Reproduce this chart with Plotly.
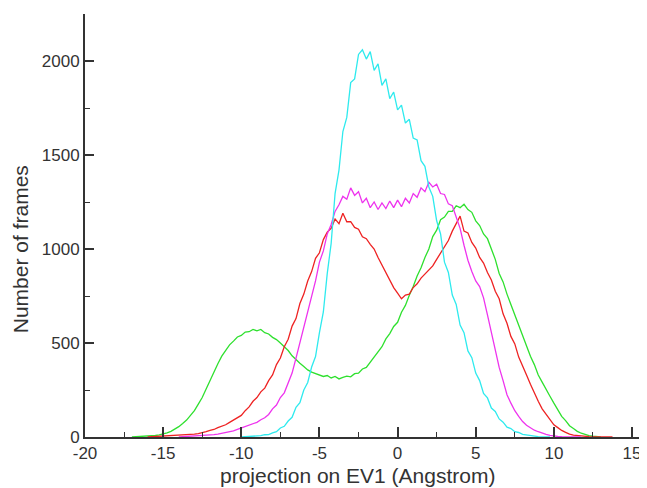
import numpy as np
import plotly.graph_objects as go

STEP = 0.25  # histogram bin spacing (Angstrom)

# Cyan curve, starts at -10
cyan_start = -10.0
cyan_vals = [
    0, 1, 3, 3, 6, 7, 12, 13,
    22, 28, 48, 57, 85, 105, 158, 182,
    250, 290, 372, 428, 555, 665, 870, 1030,
    1295, 1420, 1625, 1700, 1885, 1905, 2035, 2060,
    2010, 2050, 1950, 1985, 1870, 1905, 1800, 1835,
    1740, 1765, 1670, 1690, 1590, 1580, 1470, 1440,
    1330, 1280, 1150, 1080, 930, 875, 755, 705,
    595, 555, 458, 422, 340, 300, 232, 208,
    154, 136, 96, 79, 52, 45, 28, 24,
    14, 11, 5, 5, 2, 1, 0, 0,
]

# Magenta curve, starts at -14
magenta_start = -14.0
magenta_vals = [
    0, 1, 2, 3, 4, 5, 7, 8,
    10, 13, 15, 19, 22, 28, 32, 40,
    48, 55, 62, 70, 78, 92, 102, 120,
    150, 170, 210, 235, 285, 340, 420, 500,
    590, 660, 750, 830, 930, 990, 1080, 1130,
    1200, 1235, 1280, 1265, 1325, 1285, 1305, 1245,
    1270, 1220, 1250, 1210, 1245, 1215, 1255, 1220,
    1260, 1225, 1270, 1245, 1295, 1275, 1325, 1305,
    1355, 1330, 1345, 1295, 1290, 1240, 1230, 1165,
    1110, 1020, 940, 880, 830, 800, 740, 650,
    560, 460, 370, 300, 225, 180, 140, 110,
    82, 62, 48, 36, 28, 20, 14, 9,
    5, 3, 2, 1, 0, 0, 0, 0,
]

# Red curve, starts at -16
red_start = -16.0
red_vals = [
    0, 1, 2, 2, 3, 4, 5, 6,
    8, 9, 11, 13, 15, 18, 22, 28,
    35, 40, 50, 56, 65, 78, 90, 100,
    115, 140, 160, 190, 210, 240, 260, 300,
    330, 385, 420, 480, 520, 590, 630, 710,
    760, 830, 880, 950, 980, 1050, 1090, 1110,
    1160, 1135, 1190, 1145, 1145, 1115, 1105, 1065,
    1055, 1025, 1000, 955, 915, 875, 835, 795,
    765, 735, 755, 760, 795, 815, 845, 865,
    885, 910, 945, 980, 1015, 1045, 1095, 1135,
    1175, 1095, 1085, 1035, 1005, 955, 925, 875,
    835, 775, 735, 655, 605, 535, 495, 425,
    380, 330, 280, 230, 190, 150, 120, 90,
    65, 50, 35, 25, 15, 10, 7, 5,
    3, 2, 1, 1, 0, 0, 0, 0,
]

# Green curve, starts at -17
green_start = -17.0
green_vals = [
    0, 1, 1, 2, 3, 5, 8, 11,
    15, 22, 30, 42, 55, 72, 90, 115,
    140, 175, 210, 255, 300, 350, 390, 430,
    460, 490, 510, 532, 540, 558, 560, 572,
    565, 572, 555, 548, 530, 518, 500, 482,
    460, 432, 410, 392, 375, 357, 345, 337,
    330, 322, 327, 314, 322, 309, 317, 324,
    320, 337, 340, 362, 370, 397, 420, 452,
    480, 522, 550, 588, 610, 664, 700, 754,
    800, 856, 900, 955, 1000, 1066, 1100, 1156,
    1170, 1200, 1200, 1230, 1220, 1238, 1210, 1195,
    1150, 1125, 1080, 1055, 1000, 945, 870, 825,
    760, 705, 650, 595, 530, 485, 430, 385,
    330, 292, 250, 217, 180, 142, 110, 87,
    60, 45, 30, 20, 12, 7, 4, 2,
    0,
]

x_tick_vals = [-20, -15, -10, -5, 0, 5, 10, 15]
x_tick_text = ["-20", "-15", "-10", "-5", "0", "5", "10", "15"]
y_tick_vals = [0, 500, 1000, 1500, 2000]
y_tick_text = ["0", "500", "1000", "1500", "2000"]
x_title = "projection on EV1 (Angstrom)"
y_title = "Number of frames"

series = [
    ("green", green_start, green_vals, "#2ee02e"),
    ("red", red_start, red_vals, "#ee2222"),
    ("magenta", magenta_start, magenta_vals, "#ee33ee"),
    ("cyan", cyan_start, cyan_vals, "#2eeaee"),
]

fig = go.Figure()
for name, start, vals, color in series:
    xs = start + STEP * np.arange(len(vals))
    fig.add_trace(go.Scatter(x=xs, y=vals, mode="lines", name=name,
                             line=dict(color=color, width=1.3)))

font_family = "Liberation Sans, Arial, sans-serif"
fig.update_layout(
    width=639, height=480,
    margin=dict(l=77, r=2, t=6, b=51, autoexpand=False),
    paper_bgcolor="white", plot_bgcolor="white",
    showlegend=False,
    font=dict(family=font_family, color="#333333", size=17),
)
fig.update_xaxes(
    range=[-20, 15.83], showgrid=False, zeroline=False, automargin=False,
    showline=True, linecolor="#333333", linewidth=1.8,
    tickmode="array", tickvals=x_tick_vals, ticktext=x_tick_text,
    ticks="inside", ticklen=10, tickwidth=1.5, tickcolor="#333333",
    minor=dict(dtick=2.5, tick0=0, ticks="inside", ticklen=5, tickwidth=1.2, tickcolor="#333333"),
    tickfont=dict(size=17), ticklabeloverflow="allow",
)
fig.update_yaxes(
    range=[0, 2250], showgrid=False, zeroline=False, automargin=False,
    showline=True, linecolor="#333333", linewidth=1.8,
    tickmode="array", tickvals=y_tick_vals, ticktext=y_tick_text,
    ticks="inside", ticklen=9, tickwidth=1.5, tickcolor="#333333",
    minor=dict(dtick=250, tick0=0, ticks="inside", ticklen=5, tickwidth=1.2, tickcolor="#333333"),
    tickfont=dict(size=17), ticklabeloverflow="allow",
)
fig.add_annotation(text=x_title, xref="paper", yref="paper", x=0.487, y=-0.092,
                   xanchor="center", yanchor="middle", showarrow=False,
                   font=dict(size=21, color="#333333"))
fig.add_annotation(text=y_title, xref="paper", yref="paper", x=-0.116, y=0.444,
                   xanchor="center", yanchor="middle", showarrow=False, textangle=-90,
                   font=dict(size=21, color="#333333"))

fig.write_html("out.html")
